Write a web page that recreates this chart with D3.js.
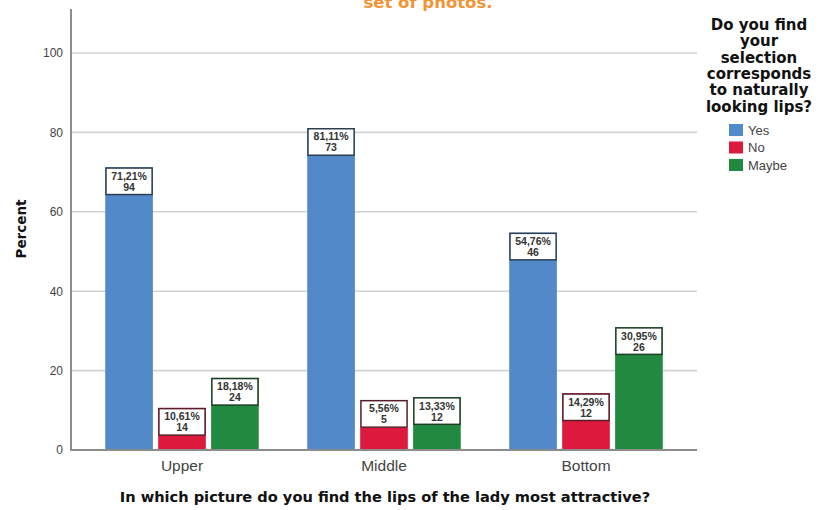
<!DOCTYPE html>
<html>
<head>
<meta charset="utf-8">
<script src="https://cdn.jsdelivr.net/npm/d3@7"></script>
<style>
  html, body { margin: 0; padding: 0; background: #fff; }
  svg { display: block; }
</style>
</head>
<body>
<svg id="chart" width="823" height="510"></svg>
<script>
// Picture choice (x groups) and answer to "natural looking lips" (series)
const categories = ["Upper", "Middle", "Bottom"];
const seriesNames = ["Yes", "No", "Maybe"];
const percentYes   = [71.21, 81.11, 54.76];
const percentNo    = [10.61, 5.56, 14.29];
const percentMaybe = [18.18, 13.33, 30.95];
const countYes   = [94, 73, 46];
const countNo    = [14, 5, 12];
const countMaybe = [24, 12, 26];
const yTicks = [0, 20, 40, 60, 80, 100];
const seriesColors = ["#5189c9", "#dc1a3e", "#218a40"];

const percents = [percentYes, percentNo, percentMaybe];
const counts = [countYes, countNo, countMaybe];

const rows = [];
categories.forEach((cat, ci) => {
  seriesNames.forEach((s, si) => {
    rows.push({ cat, series: s, si, pct: percents[si][ci], n: counts[si][ci] });
  });
});

const svg = d3.select("#chart");
const titleFont = "'DejaVu Sans', sans-serif";
const bodyFont = "'Liberation Sans', Arial, sans-serif";

const y = d3.scaleLinear().domain([0, 100]).range([450, 53]);
const x0 = d3.scaleBand().domain(categories).range([81, 687])
  .paddingInner(0.24).paddingOuter(0.12);
const x1 = d3.scaleBand().domain(seriesNames).range([0, x0.bandwidth()])
  .paddingInner(0.1);
const color = d3.scaleOrdinal().domain(seriesNames).range(seriesColors);

const plotLeft = 71, plotRight = 697;

// Caption fragment running off the top edge
svg.append("text")
  .attr("x", 428).attr("y", 8)
  .attr("text-anchor", "middle")
  .attr("font-family", titleFont).attr("font-weight", "bold")
  .attr("font-size", 16.5).attr("fill", "#f29433")
  .text("set of photos.");

// Horizontal grid lines
svg.append("g")
  .selectAll("line")
  .data(yTicks.filter(t => t > 0))
  .join("line")
  .attr("x1", plotLeft).attr("x2", plotRight)
  .attr("y1", d => y(d)).attr("y2", d => y(d))
  .attr("stroke", "#d3d3d3").attr("stroke-width", 1.6);

// Y axis labels
const yAxis = d3.axisLeft(y).tickValues(yTicks).tickSize(0).tickPadding(8);
const gy = svg.append("g").attr("transform", `translate(${plotLeft},0)`).call(yAxis);
gy.select(".domain").remove();
gy.selectAll("text")
  .attr("font-family", bodyFont).attr("font-size", 12).attr("fill", "#444");

// Bars
const bars = svg.append("g")
  .selectAll("g")
  .data(rows)
  .join("g")
  .attr("transform", d => `translate(${x0(d.cat) + x1(d.series)},0)`);

bars.append("rect")
  .attr("x", 0).attr("width", x1.bandwidth())
  .attr("y", d => y(d.pct))
  .attr("height", d => y(0) - y(d.pct))
  .attr("fill", d => color(d.series));

// Value boxes: percent and count
const boxH = 28;
const boxTop = d => {
  const top = y(d.pct);
  return (top + boxH > y(0)) ? top - boxH : top;
};
bars.append("rect")
  .attr("x", 0.75).attr("width", x1.bandwidth() - 1.5)
  .attr("y", d => boxTop(d) + 0.75)
  .attr("height", boxH - 1.5)
  .attr("fill", "#fff")
  .attr("stroke", d => d3.interpolateRgb(color(d.series), "#1e1e1e")(0.7))
  .attr("stroke-width", 1.5);

bars.append("text")
  .attr("x", x1.bandwidth() / 2)
  .attr("y", d => boxTop(d) + 12.5)
  .attr("text-anchor", "middle")
  .attr("font-family", bodyFont).attr("font-weight", "bold")
  .attr("font-size", 10.5).attr("fill", "#333")
  .text(d => d.pct.toFixed(2).replace(".", ",") + "%");

bars.append("text")
  .attr("x", x1.bandwidth() / 2)
  .attr("y", d => boxTop(d) + 23.5)
  .attr("text-anchor", "middle")
  .attr("font-family", bodyFont).attr("font-weight", "bold")
  .attr("font-size", 10.5).attr("fill", "#333")
  .text(d => d.n);

// Axis lines
svg.append("line")
  .attr("x1", plotLeft).attr("x2", plotLeft)
  .attr("y1", 9).attr("y2", y(0) + 1)
  .attr("stroke", "#8c8c8c").attr("stroke-width", 2);
svg.append("line")
  .attr("x1", plotLeft).attr("x2", plotRight)
  .attr("y1", y(0)).attr("y2", y(0))
  .attr("stroke", "#8c8c8c").attr("stroke-width", 2);

// X axis category labels
const xAxis = d3.axisBottom(x0).tickSize(0).tickPadding(10);
const gx = svg.append("g").attr("transform", `translate(0,${y(0)})`).call(xAxis);
gx.select(".domain").remove();
gx.selectAll("text")
  .attr("font-family", bodyFont).attr("font-size", 15.5).attr("fill", "#444");

// Axis titles
svg.append("text")
  .attr("x", 385).attr("y", 502)
  .attr("text-anchor", "middle")
  .attr("font-family", titleFont).attr("font-weight", "bold")
  .attr("font-size", 14.6).attr("fill", "#111")
  .text("In which picture do you find the lips of the lady most attractive?");

svg.append("text")
  .attr("transform", "translate(26,229) rotate(-90)")
  .attr("text-anchor", "middle")
  .attr("font-family", titleFont).attr("font-weight", "bold")
  .attr("font-size", 13.5).attr("fill", "#111")
  .text("Percent");

// Legend
const legendTitle = ["Do you find", "your", "selection", "corresponds", "to naturally", "looking lips?"];
const lt = svg.append("text")
  .attr("text-anchor", "middle")
  .attr("font-family", titleFont).attr("font-weight", "bold")
  .attr("font-size", 15).attr("fill", "#111");
legendTitle.forEach((line, i) => {
  lt.append("tspan").attr("x", 759).attr("y", 30 + i * 16.3).text(line);
});

const legend = svg.append("g")
  .selectAll("g")
  .data(seriesNames)
  .join("g")
  .attr("transform", (d, i) => `translate(729,${124 + i * 17.5})`);
legend.append("rect")
  .attr("width", 14).attr("height", 12)
  .attr("fill", d => color(d));
legend.append("text")
  .attr("x", 19).attr("y", 10.5)
  .attr("font-family", bodyFont).attr("font-size", 13).attr("fill", "#444")
  .text(d => d);
</script>
</body>
</html>
